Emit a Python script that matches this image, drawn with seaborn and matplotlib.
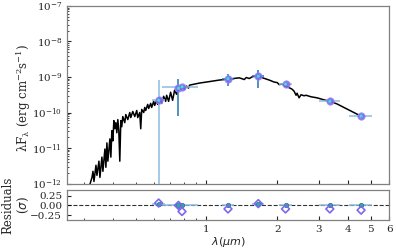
import matplotlib
matplotlib.use('Agg')
import numpy as np
import pandas as pd
import matplotlib.pyplot as plt
import seaborn as sns
from matplotlib.ticker import FixedLocator, FixedFormatter, NullFormatter, LogLocator

sns.set_style('ticks')
plt.rcParams['font.family'] = ['DejaVu Serif']
plt.rcParams['mathtext.fontset'] = 'dejavusans'

# ---- model spectrum ----
model_wave = [0.3162, 0.3257, 0.3289, 0.3321, 0.3387, 0.3420, 0.3487, 0.3521, 0.3590, 0.3625,
              0.3697, 0.3733, 0.3770, 0.3806, 0.3882, 0.3919, 0.3958, 0.3996, 0.4036, 0.4075,
              0.4115, 0.4155, 0.4196, 0.4237, 0.4278, 0.4320, 0.4362, 0.4405, 0.4492, 0.4536,
              0.4626, 0.4717, 0.4764, 0.4858, 0.4954, 0.5051, 0.5100, 0.5201, 0.5252, 0.5303,
              0.5408, 0.5461, 0.5514, 0.5623, 0.5678, 0.5790, 0.5846, 0.5962, 0.6020, 0.6139,
              0.6199, 0.6322, 0.6446, 0.6574, 0.6703, 0.6769, 0.6902, 0.7038, 0.7176, 0.7318,
              0.7461, 0.7607, 0.7757, 0.7910, 0.8066, 0.8229, 0.8388, 0.8472, 0.8896, 0.9340,
              1.030, 1.135, 1.252, 1.380, 1.449, 1.477, 1.521, 1.567, 1.645, 1.744,
              1.849, 1.942, 2.000, 2.039, 2.099, 2.162, 2.247, 2.314, 2.360, 2.406,
              2.430, 2.478, 2.527, 2.602, 2.653, 2.786, 2.953, 3.162, 3.353, 3.591,
              3.844, 4.116, 4.364, 4.581]
model_logflux = [-12.114, -11.829, -11.657, -11.943, -11.486, -11.771, -11.371, -11.829, -11.257, -11.657,
                 -11.029, -11.543, -10.857, -11.371, -10.743, -11.257, -10.514, -10.800, -10.229, -10.457,
                 -10.286, -10.571, -10.200, -10.514, -11.371, -10.229, -10.400, -10.114, -10.286, -10.057,
                 -10.200, -10.000, -10.143, -9.971, -10.114, -9.943, -10.143, -10.000, -10.457, -9.914,
                 -10.000, -9.857, -9.943, -9.771, -9.886, -9.743, -9.857, -9.686, -9.800, -9.657,
                 -9.771, -9.600, -9.743, -9.543, -9.686, -9.514, -9.686, -9.429, -9.657, -9.371,
                 -9.486, -9.314, -9.371, -9.257, -9.343, -9.257, -9.314, -9.229, -9.200, -9.171,
                 -9.129, -9.086, -9.057, -9.023, -9.071, -9.014, -9.043, -8.994, -8.966, -9.029,
                 -9.086, -9.143, -9.157, -9.214, -9.200, -9.257, -9.300, -9.343, -9.400, -9.514,
                 -9.457, -9.586, -9.500, -9.529, -9.514, -9.557, -9.586, -9.643, -9.686, -9.757,
                 -9.857, -9.957, -10.043, -10.114]

# ---- photometry ----
phot_wave = [0.626, 0.760, 0.787, 1.235, 1.662, 2.170, 3.35, 4.55]
phot_wave_err = [0.04, 0.01, 0.137, 0.07, 0.10, 0.14, 0.34, 0.50]
phot_flux = [2.2e-10, 4.8e-10, 5.3e-10, 8.9e-10, 1.05e-9, 6.3e-10, 2.06e-10, 7.9e-11]
phot_flux_err = [6.0e-10, 4.0e-10, 3.0e-11, 3.3e-10, 5.5e-10, 3.0e-11, 1.0e-11, 5.0e-12]
model_phot_flux = [2.2e-10, 4.8e-10, 5.3e-10, 8.9e-10, 1.05e-9, 6.3e-10, 2.06e-10, 7.9e-11]
resid_model = [0.03, 0.0, 0.0, 0.0, 0.03, 0.0, 0.0, 0.0]
resid_data = [0.06, 0.0, -0.155, -0.09, 0.045, -0.09, -0.09, -0.12]

xticks = [1, 2, 3, 4, 5, 6]
xtick_labels = ['1', '2', '3', '4', '5', '6']
resid_yticks = [0.25, 0.0, -0.25]

spec = pd.DataFrame({'wave': model_wave, 'flux': np.power(10.0, model_logflux)})
phot = pd.DataFrame({'wave': phot_wave, 'flux': phot_flux, 'model': model_phot_flux,
                     'rm': resid_model, 'rd': resid_data})

fig = plt.figure(figsize=(3.96, 2.52), dpi=100)
ax = fig.add_axes([0.1692, 0.2718, 0.8139, 0.7044])
axr = fig.add_axes([0.1692, 0.127, 0.8139, 0.119])

light = '#8dbbe0'
dark = '#1f77b4'
ecols = [light, dark, light, dark, dark, light, light, light]

ax.set_xscale('log')
ax.set_yscale('log')
sns.lineplot(data=spec, x='wave', y='flux', ax=ax, color='k', lw=1.1, sort=False,
             estimator=None, zorder=2)
for i in range(len(phot_wave)):
    ax.errorbar(phot_wave[i], phot_flux[i], xerr=phot_wave_err[i], yerr=phot_flux_err[i],
                fmt='none', ecolor=ecols[i], elinewidth=1.1, zorder=3)
sns.scatterplot(data=phot, x='wave', y='flux', ax=ax, color='#7b68ee', s=28,
                edgecolor='#9a8af5', linewidth=0.6, alpha=0.9, zorder=4)
sns.scatterplot(data=phot, x='wave', y='model', ax=ax, color='#40e0d0', s=5,
                edgecolor='none', zorder=5)
ax.set_xlim(0.255, 6.0)
ax.set_ylim(1e-12, 1e-7)
ax.set_xlabel('')
ax.set_ylabel('λF$_{\\mathregular{λ}}$ (erg cm$^{\\mathregular{-2}}$s$^{\\mathregular{-1}}$)',
              fontsize=8.5)
ax.yaxis.set_label_coords(-0.106, 0.48)
ax.xaxis.set_major_locator(FixedLocator(xticks))
ax.xaxis.set_major_formatter(NullFormatter())
ax.xaxis.set_minor_formatter(NullFormatter())
ax.yaxis.set_major_locator(LogLocator(base=10, numticks=10))

# residuals
axr.set_xscale('log')
axr.axhline(0, color='k', ls='--', lw=0.8, alpha=0.8, zorder=1)
axr.errorbar(phot_wave, resid_model, xerr=phot_wave_err, fmt='none', ecolor=light,
             elinewidth=1.1, zorder=2)
sns.scatterplot(data=phot, x='wave', y='rm', ax=axr, color='#20b2aa', s=10,
                edgecolor='#2f6f6f', linewidth=0.5, zorder=3)
sns.scatterplot(data=phot, x='wave', y='rd', ax=axr, marker='D', s=16,
                facecolor='none', edgecolor='#7b68ee', linewidth=1.2, zorder=4)
axr.set_xlim(0.255, 6.0)
axr.set_ylim(-0.37, 0.39)
axr.set_yticks(resid_yticks)
axr.set_yticklabels(['0.25', '0.00', '\u22120.25'])
axr.xaxis.set_major_locator(FixedLocator(xticks))
axr.xaxis.set_major_formatter(FixedFormatter(xtick_labels))
axr.xaxis.set_minor_formatter(NullFormatter())
axr.set_xlabel('$\\lambda (\\mu m)$', fontsize=8, labelpad=1)
axr.set_ylabel('Residuals\n($\\sigma$)', fontsize=8.5, linespacing=1.1)
axr.yaxis.set_label_coords(-0.112, 0.5)

for a in (ax, axr):
    a.tick_params(axis='both', which='both', direction='in', labelsize=7.5)
    a.tick_params(which='major', length=3)
    a.tick_params(which='minor', length=1.5)
    for s in a.spines.values():
        s.set_color('#808080')
        s.set_linewidth(0.9)
    a.spines['top'].set_visible(True)
    a.spines['right'].set_visible(True)

fig.savefig('out.png', dpi=100)
